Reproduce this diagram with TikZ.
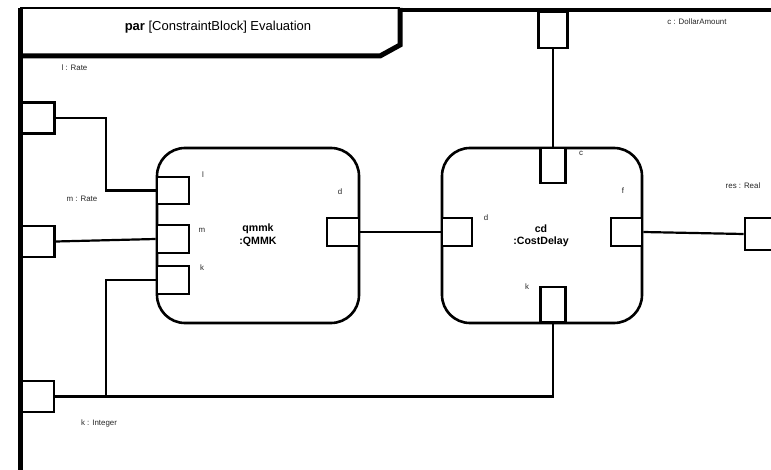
\documentclass[tikz,border=0pt]{standalone}
\usepackage{fontspec}
\setmainfont{Liberation Sans}
\usepackage{tikz}
\usetikzlibrary{positioning,calc}

\newcommand{\lblTitle}{\textbf{par} [ConstraintBlock] Evaluation}
\newcommand{\lblQmmk}{qmmk\\:QMMK}
\newcommand{\lblCd}{cd\\:CostDelay}

\begin{document}
\begin{tikzpicture}[
  x=1pt, y=-1pt,
  lbl/.style   ={font=\fontsize{7.9}{9}\selectfont, inner sep=0pt, text=black!85},
  blockbox/.style ={draw, line width=2.6pt, rounded corners=28pt, fill=white,
                 align=center, inner sep=0pt},
  blocktext/.style={font=\fontsize{10.6}{12.5}\selectfont\bfseries, align=center, inner sep=0pt},
  port/.style  ={draw, line width=2.6pt, fill=white, inner sep=0pt},
  wire/.style  ={draw, line width=2.2pt},
  frameline/.style={draw, line width=5pt},
]
\useasboundingbox (0,0) rectangle (771,470);

% ---- geometry --------------------------------------------------------------
\def\xJog{106}      % jog column of the l / k wires
\def\yK{396}        % row of the k wire

% ---- frame -----------------------------------------------------------------
\draw[line width=1.6pt] (20,8) -- (400,8);
\draw[line width=4pt] (400,10.5) -- (775,10.5);
\draw[frameline, line join=miter] (400,8) -- (400,45) -- (380,56) -- (20,56);
\node[font=\fontsize{13}{15}\selectfont, inner sep=0pt] (title) at (218,27) {\lblTitle};

% ---- frame ports -----------------------------------------------------------
\node[port, minimum width=33pt, minimum height=31pt] (pl)   at (38,118)    {};
\node[port, minimum width=33pt, minimum height=31pt] (pm)   at (38,241.5)  {};
\node[port, minimum width=33pt, minimum height=31pt] (pk)   at (37.5,396.5) {};
\node[port, minimum width=29pt, minimum height=36pt] (pc)   at (553,30)  {};
\node[port, minimum width=33pt, minimum height=32pt] (pres) at (761.5,234) {};
\draw[frameline] (20,8) -- (20,475);

\node[lbl] (lblL)   at (74.5,68) {l : Rate};
\node[lbl] (lblM)   at (82,199)  {m : Rate};
\node[lbl] (lblK)   at (99,423)  {k : Integer};
\node[lbl] (lblC)   at (697,22)  {c : DollarAmount};
\node[lbl] (lblRes) at (743,186) {res : Real};

% ---- constraint blocks -----------------------------------------------------
\node[blockbox, minimum width=202pt, minimum height=175pt] (qmmk) at (258,235.5) {};
\node[blockbox, minimum width=200pt, minimum height=175pt] (cd)   at (542,235.5) {};
\node[blocktext] (qmmkT) at (258,235) {\lblQmmk};
\node[blocktext] (cdT)   at (541,236) {\lblCd};

% qmmk ports
\node[port, minimum width=32pt, minimum height=27pt] (ql) at (173,190.5) {};
\node[port, minimum width=32pt, minimum height=28pt] (qm) at (173,239)   {};
\node[port, minimum width=32pt, minimum height=28pt] (qk) at (173,280)   {};
\node[port, minimum width=32pt, minimum height=28pt] (qd) at (343,232)   {};
\node[lbl] at (203,175) {l};
\node[lbl] at (202,230) {m};
\node[lbl] at (202,268) {k};
\node[lbl] at (340,192) {d};

% cd ports
\node[port, minimum width=25pt, minimum height=35pt] (cc)  at (553,165.5) {};
\node[port, minimum width=30pt, minimum height=28pt] (cdd) at (457,232)     {};
\node[port, minimum width=31pt, minimum height=28pt] (cf)  at (626.5,232)   {};
\node[port, minimum width=25pt, minimum height=35pt] (ck)  at (553,304.5) {};
\node[lbl] at (581,153) {c};
\node[lbl] at (486,218) {d};
\node[lbl] at (623,191) {f};
\node[lbl] at (527,287) {k};

% ---- wires -----------------------------------------------------------------
\coordinate (jog) at (\xJog,\yK);
\draw[wire] (pl.east) -- (pl.east -| jog) |- (ql.west);
\draw[wire] (pm.east) -- (qm.west);
\draw[wire] (qk.west) -- (qk.west -| jog) -- (jog);
\draw[wire] (pk.east) -| (ck.south);
\draw[wire] (qd.east) -- (cdd.west);
\draw[wire] (pc.south) -- (cc.north);
\draw[wire] (cf.east) -- (pres.west);

\end{tikzpicture}
\end{document}
